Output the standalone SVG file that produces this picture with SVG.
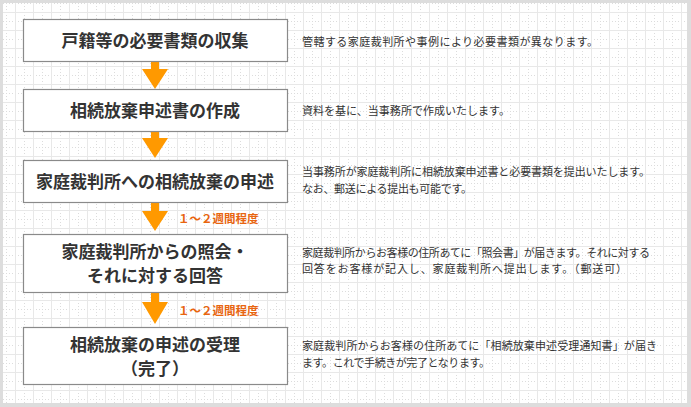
<svg xmlns="http://www.w3.org/2000/svg" width="691" height="407" viewBox="0 0 691 407">
<defs>
<pattern id="grid" patternUnits="userSpaceOnUse" x="6" y="3" width="18" height="18">
<line x1="0.5" y1="0" x2="0.5" y2="18" stroke="#dcdcdc" stroke-width="1" stroke-dasharray="1 2"/>
<line x1="0" y1="0.5" x2="18" y2="0.5" stroke="#dcdcdc" stroke-width="1" stroke-dasharray="1 2"/>
<line x1="9.5" y1="0" x2="9.5" y2="18" stroke="#e8e8e8" stroke-width="1"/>
<line x1="0" y1="9.5" x2="18" y2="9.5" stroke="#e8e8e8" stroke-width="1"/>
</pattern>
</defs>
<style>
.box{fill:#fff;stroke:#8a8a8a;stroke-width:1.2}
.title{font-family:"Noto Sans CJK JP","Noto Sans",sans-serif;font-weight:bold;font-size:17px;fill:#333;text-anchor:middle}
.note{font-family:"Noto Sans CJK JP","Noto Sans",sans-serif;font-size:11px;fill:#333}
.arrow{fill:#ff9900}
.lbl{font-family:"Noto Sans CJK JP","Noto Sans",sans-serif;font-weight:bold;font-size:11.5px;fill:#e8650f}
</style>
<rect x="0" y="0" width="691" height="407" fill="#dddddd"/>
<rect x="3" y="3" width="684" height="400" fill="#ffffff"/>
<rect x="3" y="3" width="684" height="400" fill="url(#grid)"/>

<g id="connectors">
<path class="arrow" d="M151 61H159V69H168L155 89L142 69H151Z"/>
<path class="arrow" d="M151 131H159V138H168L155 158L142 138H151Z"/>
<path class="arrow" d="M151 202H159V211H168L155 231L142 211H151Z"/>
<path class="arrow" d="M151 292H159V302H168L155 324L142 302H151Z"/>
<text class="lbl" x="178" y="223">１～２週間程度</text>
<text class="lbl" x="178" y="315">１～２週間程度</text>
</g>

<g id="node1">
<rect class="box" x="23.5" y="19.5" width="264" height="42"/>
<text class="title" x="155" y="47">戸籍等の必要書類の収集</text>
</g>
<g id="node2">
<rect class="box" x="23.5" y="89.5" width="264" height="42"/>
<text class="title" x="155" y="117">相続放棄申述書の作成</text>
</g>
<g id="node3">
<rect class="box" x="23.5" y="160.5" width="264" height="42"/>
<text class="title" x="155" y="188">家庭裁判所への相続放棄の申述</text>
</g>
<g id="node4">
<rect class="box" x="23.5" y="234.5" width="264" height="58"/>
<text class="title" x="155" y="258">家庭裁判所からの照会・</text>
<text class="title" x="155" y="282">それに対する回答</text>
</g>
<g id="node5">
<rect class="box" x="23.5" y="327.5" width="264" height="57"/>
<text class="title" x="155" y="351">相続放棄の申述の受理</text>
<text class="title" x="155" y="375">（完了）</text>
</g>

<g id="notes">
<text class="note" x="302" y="45.5" textLength="296" lengthAdjust="spacing">管轄する家庭裁判所や事例により必要書類が異なります。</text>
<text class="note" x="302" y="115" textLength="208" lengthAdjust="spacing">資料を基に、当事務所で作成いたします。</text>
<text class="note" x="302" y="176" textLength="348" lengthAdjust="spacing">当事務所が家庭裁判所に相続放棄申述書と必要書類を提出いたします。</text>
<text class="note" x="302" y="192.5" textLength="170" lengthAdjust="spacing">なお、郵送による提出も可能です。</text>
<text class="note" x="302" y="256.5" textLength="348" lengthAdjust="spacing">家庭裁判所からお客様の住所あてに「照会書」が届きます。それに対する</text>
<text class="note" x="302" y="272.5" textLength="325" lengthAdjust="spacing">回答をお客様が記入し、家庭裁判所へ提出します。（郵送可）</text>
<text class="note" x="302" y="350" textLength="355" lengthAdjust="spacing">家庭裁判所からお客様の住所あてに「相続放棄申述受理通知書」が届き</text>
<text class="note" x="302" y="366.5" textLength="188" lengthAdjust="spacing">ます。これで手続きが完了となります。</text>
</g>
</svg>
